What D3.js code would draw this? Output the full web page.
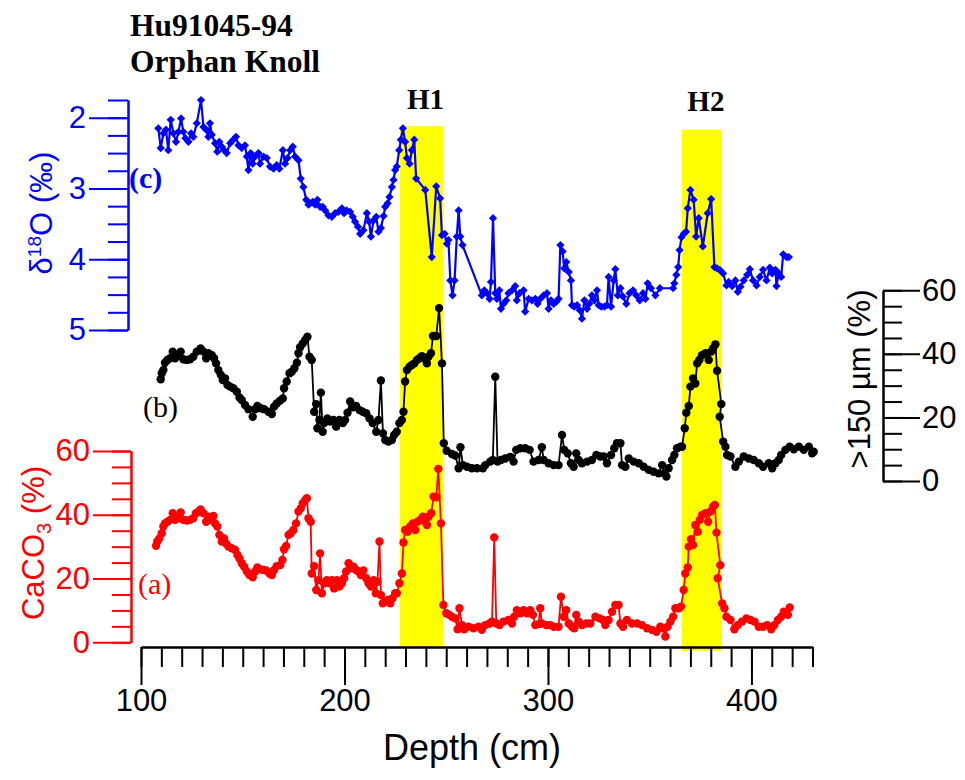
<!DOCTYPE html>
<html>
<head>
<meta charset="utf-8">
<script src="https://cdn.jsdelivr.net/npm/d3@7"></script>
<style>
body{margin:0;background:#fff;}
.canvas{width:965px;height:780px;}
.axis text{font-family:"Liberation Sans",Arial,sans-serif;font-size:31px;}
.serif{font-family:"Liberation Serif","Times New Roman",serif;}
.sans{font-family:"Liberation Sans",Arial,sans-serif;}
</style>
</head>
<body>
<div id="canvas" class="canvas"></div>
<script>
//data: depth (cm) and values
var depthO = [108.5,109.7,111.0,112.3,113.4,114.6,115.9,117.2,118.4,119.7,120.8,121.8,123.3,124.6,125.7,127.4,129.5,130.7,132.0,133.1,133.9,134.8,136.4,137.5,138.5,139.7,140.8,142.1,143.8,145.4,146.7,147.9,149.5,151.1,152.0,152.8,153.9,154.9,156.1,157.7,158.5,160.2,161.8,163.4,165.1,166.7,168.0,169.7,170.8,172.0,173.3,174.6,175.7,177.4,178.5,179.8,181.2,182.3,183.1,184.4,185.6,186.7,188.0,189.3,190.5,192.1,193.8,195.4,197.0,198.7,199.8,201.1,202.8,204.1,205.2,206.6,207.7,209.3,211.0,212.1,213.0,214.3,215.6,216.7,217.9,219.2,220.0,221.2,222.1,223.3,224.1,224.9,225.7,226.9,227.7,228.7,229.8,230.7,232.0,233.1,234.3,235.2,239.7,242.9,245.1,247.0,247.9,249.2,250.3,251.1,252.0,253.1,254.1,255.2,256.1,256.9,258.0,267.5,268.7,270.0,271.3,272.0,273.0,274.1,274.9,276.1,276.9,278.2,279.5,280.6,282.3,283.9,284.7,286.1,288.0,288.8,290.5,292.1,293.8,294.9,296.2,297.9,299.5,300.3,301.5,302.8,304.1,305.2,306.1,307.2,308.0,309.0,310.2,311.3,311.8,312.9,314.3,315.6,316.7,317.9,319.2,320.3,321.6,322.8,324.1,324.9,326.2,327.7,329.0,329.8,331.0,332.3,333.1,334.3,335.6,336.9,338.5,340.1,341.8,343.4,345.1,346.7,347.9,349.0,350.6,352.8,355.0,361.5,362.1,363.1,364.0,364.7,365.6,366.7,367.9,368.7,370.0,371.6,372.8,374.1,376.1,378.5,380.2,381.8,383.1,384.4,386.1,387.7,388.8,390.5,392.1,393.3,394.6,396.2,397.9,399.2,400.8,402.5,404.1,405.7,407.4,409.0,410.2,411.8,412.3,413.4,414.6,415.6,417.2,418.4];
var d18O = [2.15,2.43,2.22,2.17,2.46,2.03,2.22,2.34,2.20,2.01,2.20,2.29,2.34,2.22,2.27,2.08,1.75,2.13,2.17,2.27,2.08,2.24,2.36,2.48,2.34,2.41,2.46,2.50,2.36,2.31,2.27,2.39,2.43,2.39,2.55,2.74,2.50,2.65,2.55,2.50,2.65,2.55,2.57,2.69,2.72,2.67,2.72,2.46,2.65,2.57,2.46,2.41,2.55,2.60,2.86,2.98,3.16,3.23,3.21,3.19,3.23,3.16,3.26,3.26,3.31,3.38,3.40,3.35,3.33,3.28,3.35,3.31,3.33,3.40,3.47,3.54,3.64,3.59,3.35,3.47,3.68,3.45,3.40,3.61,3.56,3.39,3.26,3.21,3.12,2.98,2.88,2.74,2.69,2.46,2.31,2.15,2.34,2.57,2.65,2.46,2.31,2.86,3.02,3.97,2.97,3.14,3.66,3.64,3.78,3.73,4.30,4.51,4.30,3.68,3.31,3.68,3.80,4.51,4.44,4.48,4.56,4.32,3.42,4.48,4.56,4.44,4.70,4.63,4.58,4.48,4.44,4.38,4.58,4.48,4.44,4.74,4.56,4.58,4.56,4.63,4.56,4.51,4.48,4.70,4.58,4.63,4.60,4.56,3.80,3.89,4.13,4.04,4.18,4.30,4.65,4.67,4.65,4.72,4.84,4.58,4.70,4.63,4.51,4.58,4.44,4.65,4.67,4.67,4.65,4.25,4.67,4.30,4.14,4.51,4.41,4.53,4.63,4.48,4.44,4.51,4.58,4.48,4.56,4.34,4.41,4.51,4.41,4.41,4.34,4.22,4.11,3.87,3.69,3.64,3.61,3.28,3.02,3.16,3.68,3.42,3.82,3.35,3.15,4.11,4.13,4.15,4.20,4.37,4.32,4.38,4.30,4.46,4.39,4.30,4.22,4.14,4.30,4.37,4.25,4.15,4.30,4.12,4.20,4.15,4.38,4.20,4.25,3.93,3.97,3.97];

var depthCoarse = [109.7,110.2,111.0,111.8,113.0,114.3,115.6,116.7,118.4,119.5,120.8,122.5,124.1,125.7,127.4,129.3,130.7,132.0,133.1,134.8,135.9,136.9,138.0,139.2,140.2,141.3,142.5,143.8,145.4,147.1,148.4,149.5,151.1,152.8,154.9,156.1,157.2,158.9,160.5,162.6,164.3,165.4,166.7,168.4,169.7,170.3,171.6,173.0,174.1,175.4,176.6,177.4,178.2,179.5,180.7,181.8,182.8,183.9,185.1,186.1,186.7,187.7,188.4,189.3,190.0,191.6,193.0,194.6,195.9,197.5,199.2,200.3,201.5,202.8,204.1,205.7,207.4,209.0,210.7,212.3,213.9,215.6,216.7,217.9,218.9,220.0,221.6,223.3,224.4,225.7,227.0,228.2,229.0,229.8,230.7,232.0,233.1,234.3,235.6,236.9,238.0,239.2,240.5,241.3,242.5,243.5,245.1,246.5,247.9,248.8,250.2,252.8,254.4,256.1,257.0,258.2,260.2,262.6,265.1,268.0,269.2,271.6,272.9,274.1,275.2,276.9,279.0,281.5,283.1,284.4,286.4,288.8,291.0,292.9,295.4,297.0,297.9,300.3,302.8,305.2,306.9,308.0,309.7,311.3,312.6,313.9,315.1,316.7,319.2,321.6,323.8,325.7,327.4,329.0,331.0,332.6,333.9,335.6,336.4,338.0,339.7,342.1,344.6,347.0,349.5,351.9,354.4,356.1,357.2,358.2,359.3,361.0,362.1,363.4,365.1,365.9,367.2,368.0,369.2,370.0,371.3,372.4,373.3,374.4,375.7,377.4,379.0,380.2,381.1,382.3,383.1,385.2,384.4,386.1,387.2,388.0,389.7,392.1,393.8,396.2,398.7,401.1,403.6,405.7,408.5,410.2,411.8,413.4,414.6,416.7,418.8,420.8,423.3,425.7,428.2,429.8,430.6];
var coarse = [32.0,33.9,34.9,37.2,38.1,38.6,40.7,38.6,39.3,40.7,38.3,38.1,38.3,39.1,40.7,41.7,40.7,38.6,40.2,39.6,38.6,37.0,34.9,33.4,31.8,32.3,30.2,29.7,29.2,28.1,26.3,25.5,23.9,22.6,20.2,22.6,23.6,22.9,22.6,21.8,21.1,23.4,24.4,25.3,26.0,29.2,31.3,33.9,34.4,35.5,37.2,40.2,42.1,43.3,44.4,45.4,39.1,38.1,21.8,24.2,16.6,19.2,27.8,15.5,18.2,19.7,18.7,19.2,17.1,19.2,18.2,19.2,21.5,25.0,23.2,23.6,22.3,21.8,21.3,19.7,18.2,15.5,19.2,31.6,15.0,12.9,12.4,12.9,14.5,15.5,18.2,19.2,21.8,31.3,34.9,36.0,36.5,37.0,38.1,38.6,39.3,38.6,37.0,39.1,40.2,45.6,45.6,54.4,37.0,11.9,9.5,8.5,8.0,4.0,10.6,5.0,4.5,4.0,4.0,4.0,5.0,6.1,6.6,32.8,6.1,6.6,7.1,7.6,6.1,9.8,10.3,10.3,9.8,6.1,6.6,10.6,6.6,5.6,5.0,5.0,14.5,9.8,8.7,5.6,4.5,8.7,6.6,5.6,6.1,6.6,8.2,7.7,7.7,5.6,8.2,10.3,11.9,11.9,5.0,4.5,7.1,6.1,5.6,4.5,3.5,2.9,2.4,5.0,2.4,1.4,4.0,6.6,8.2,10.3,10.8,10.8,16.6,21.5,23.6,29.7,32.3,30.7,37.0,38.1,39.6,40.2,38.1,40.7,41.7,43.0,34.7,24.2,20.2,12.4,10.8,8.2,7.7,4.5,6.1,7.7,7.1,6.6,5.6,4.5,5.6,4.0,5.6,6.6,8.2,9.8,10.8,10.0,10.8,9.8,10.8,8.7,9.2];

var depthCa = [107.4,108.0,109.0,110.2,111.0,111.8,113.0,114.3,115.6,116.7,118.4,119.5,120.8,122.5,124.1,125.7,127.0,128.2,129.3,130.7,132.0,133.1,134.3,135.6,136.4,137.5,138.5,139.7,140.8,141.8,143.0,144.6,146.2,147.4,148.4,149.5,150.7,152.0,153.3,154.9,156.1,157.2,158.5,160.2,161.5,163.1,164.3,165.4,166.7,168.4,169.5,170.3,171.3,172.5,173.6,174.9,176.2,177.4,178.5,179.5,180.7,181.5,182.3,183.4,183.9,185.1,186.1,187.2,188.0,188.9,190.0,191.3,192.6,193.8,194.9,196.2,197.5,198.7,199.8,200.8,202.0,203.1,204.4,205.7,206.9,208.0,209.3,210.7,211.8,213.0,214.3,215.4,216.2,217.2,217.9,218.8,220.0,221.2,222.5,223.6,224.9,225.7,227.0,228.2,229.0,229.8,231.0,232.3,233.6,234.8,235.9,237.2,238.5,239.7,240.5,241.3,242.6,243.8,245.1,246.1,247.4,248.6,250.0,251.5,252.8,254.4,255.6,256.5,257.7,258.8,261.0,263.4,265.9,267.5,269.2,271.3,272.5,273.6,274.6,276.2,278.2,280.6,282.3,283.4,284.7,286.4,288.0,289.7,291.3,292.6,293.8,295.4,296.2,297.0,299.2,301.1,302.8,305.2,306.4,307.7,309.0,310.2,311.8,312.9,313.9,315.1,316.7,318.8,320.8,323.3,325.4,327.0,328.2,329.8,331.5,333.1,334.7,335.6,336.9,338.8,341.3,343.8,346.2,348.7,351.1,353.3,355.2,356.6,357.7,358.8,360.2,361.5,362.6,364.3,365.4,366.7,367.5,368.7,369.2,370.3,371.3,372.4,373.6,374.6,375.7,377.4,378.7,379.8,381.1,382.0,382.8,384.7,383.4,385.6,386.7,387.7,389.7,391.6,393.3,395.4,397.5,399.5,401.5,403.6,405.7,407.7,409.7,411.3,413.0,414.6,415.9,417.9,418.8];
var caco3 = [30.3,31.6,32.6,34.2,36.3,37.3,37.8,38.4,40.5,38.4,38.9,40.7,38.4,38.2,38.4,38.9,40.5,41.0,41.7,40.5,37.8,39.4,38.4,39.6,37.3,36.3,33.7,31.6,32.6,31.0,30.0,29.5,29.0,27.4,26.3,24.8,23.7,22.2,21.1,20.4,22.2,23.5,22.9,22.7,22.5,21.6,21.1,22.7,23.9,24.2,25.8,29.2,30.2,33.7,34.2,35.2,37.3,41.0,42.0,43.6,44.6,45.2,38.9,37.8,21.6,23.9,16.4,19.5,27.9,15.4,18.5,19.5,18.5,19.5,16.9,19.5,17.5,18.5,20.1,22.2,24.8,23.2,23.7,22.7,22.2,21.1,22.5,20.1,18.5,17.5,19.5,15.4,19.0,31.6,14.8,12.2,12.8,13.3,12.2,13.8,15.4,15.4,18.5,21.6,31.3,35.2,34.7,36.3,37.3,35.2,37.8,38.4,39.4,37.8,36.8,39.4,40.5,45.7,45.5,54.4,37.3,11.7,9.1,8.6,8.0,7.5,4.1,10.7,5.4,4.1,4.9,4.4,4.9,3.9,5.4,5.9,6.5,32.9,5.9,5.4,6.5,7.0,5.9,8.0,10.1,9.1,10.1,9.1,10.1,8.6,5.4,5.7,10.7,5.9,5.4,5.4,4.9,4.9,14.3,8.0,10.1,5.9,4.9,4.4,8.6,6.5,5.4,5.9,5.9,8.0,7.5,7.0,5.4,7.0,9.6,11.7,11.7,5.9,4.9,7.0,5.9,5.9,5.4,4.4,3.9,3.3,4.9,4.4,1.8,4.9,6.5,8.0,10.7,10.7,11.2,16.4,21.6,23.5,30.0,32.3,30.5,36.8,34.7,38.4,39.9,40.5,37.8,41.0,42.5,43.1,34.4,24.2,20.1,12.2,10.7,8.0,7.0,4.1,5.4,6.5,7.5,7.0,6.5,4.9,4.9,5.4,4.1,5.4,7.0,8.0,9.6,8.6,10.9];

//Heinrich events (depth ranges)
var bandNames = ['H1','H2'];
var bandFrom = [227.3,365.8];
var bandTo = [248.4,385.5];

//tick labels
var depthTicks = [100,200,300,400];
var pctTicks = [0,20,40,60];
var o18Ticks = [2,3,4,5];

var outerWidth = 965, outerHeight = 780;

var plot = d3.select('.canvas')
    .append('svg')
    .attr('width',outerWidth)
    .attr('height',outerHeight)
    .append('g');

//scales
var scaleX = d3.scaleLinear().domain([100,430]).range([141,812.5]);
var scaleO = d3.scaleLinear().domain([1.75,5]).range([100,330]);
var scaleB = d3.scaleLinear().domain([0,60]).range([481,290.3]);
var scaleR = d3.scaleLinear().domain([0,60]).range([642.3,451]);

//yellow bands first, behind the curves
var bands = bandNames.map(function(n,i){ return {name:n, from:bandFrom[i], to:bandTo[i]}; });
plot.selectAll('rect.band')
    .data(bands)
    .enter().append('rect')
    .attr('class','band')
    .attr('x',function(d){ return scaleX(d.from); })
    .attr('width',function(d){ return scaleX(d.to) - scaleX(d.from); })
    .attr('y',function(d,i){ return i==0 ? scaleO(2.12) : scaleO(2.17); })
    .attr('height',function(d,i){ return (i==0 ? scaleR(-1.2) : scaleR(-2.7)) - (i==0 ? scaleO(2.12) : scaleO(2.17)); })
    .attr('fill','#ffff00');

plot.selectAll('text.band')
    .data(bands)
    .enter().append('text')
    .attr('class','serif')
    .attr('x',function(d){ return (scaleX(d.from)+scaleX(d.to))/2 + 4; })
    .attr('y',function(d,i){ return i==0 ? 109 : 111; })
    .attr('text-anchor','middle')
    .attr('font-weight','bold')
    .attr('font-size',29)
    .text(function(d){ return d.name; });

//axes
function drawAxis(axis, color, tr){
    var g = plot.append('g').attr('class','axis')
        .attr('transform',tr)
        .attr('color',color)
        .call(axis);
    g.selectAll('line,path').attr('stroke-width',2);
    return g;
}

//bottom depth axis
drawAxis(d3.axisBottom(scaleX).tickValues(d3.range(100,431,10)).tickFormat('').tickSize(20).tickSizeOuter(0),'black','translate(0,647)');
drawAxis(d3.axisBottom(scaleX).tickValues(depthTicks).tickSize(38).tickPadding(4).tickSizeOuter(0),'black','translate(0,647)');

//d18O axis
drawAxis(d3.axisLeft(scaleO).tickValues(d3.range(1.75,5.01,0.25)).tickFormat('').tickSize(20).tickSizeOuter(0),'blue','translate(128,0)');
drawAxis(d3.axisLeft(scaleO).tickValues(o18Ticks).tickFormat(d3.format('d')).tickSize(39).tickPadding(3).tickSizeOuter(0),'blue','translate(128,0)');

//>150 um axis
drawAxis(d3.axisRight(scaleB).tickValues(d3.range(0,61,5)).tickFormat('').tickSize(19).tickSizeOuter(0),'black','translate(883,0)');
drawAxis(d3.axisRight(scaleB).tickValues(pctTicks).tickSize(37).tickPadding(2).tickSizeOuter(0),'black','translate(883,0)');

//CaCO3 axis
drawAxis(d3.axisLeft(scaleR).tickValues(d3.range(0,61,5)).tickFormat('').tickSize(19).tickSizeOuter(0),'red','translate(131,0)');
drawAxis(d3.axisLeft(scaleR).tickValues(pctTicks).tickSize(38).tickPadding(3).tickSizeOuter(0),'red','translate(131,0)');

//series
var blue = depthO.map(function(d,i){ return {x:d, y:d18O[i]}; });
var black = depthCoarse.map(function(d,i){ return {x:d, y:coarse[i]}; });
var red = depthCa.map(function(d,i){ return {x:d, y:caco3[i]}; });

function drawLine(data, sy, color, w){
    var line = d3.line()
        .x(function(d){ return scaleX(d.x); })
        .y(function(d){ return sy(d.y); });
    plot.append('path')
        .datum(data)
        .attr('d',line)
        .attr('fill','none')
        .attr('stroke',color)
        .attr('stroke-width',w);
}

drawLine(blue, scaleO, 'blue', 2.2);
plot.append('g').selectAll('path')
    .data(blue)
    .enter().append('path')
    .attr('d',d3.symbol().type(d3.symbolSquare).size(34))
    .attr('transform',function(d){ return 'translate(' + scaleX(d.x) + ',' + scaleO(d.y) + ') rotate(45)'; })
    .attr('fill','blue');

drawLine(black, scaleB, 'black', 1.8);
plot.append('g').selectAll('circle')
    .data(black)
    .enter().append('circle')
    .attr('cx',function(d){ return scaleX(d.x); })
    .attr('cy',function(d){ return scaleB(d.y); })
    .attr('r',4.2)
    .attr('fill','black');

drawLine(red, scaleR, 'red', 1.8);
plot.append('g').selectAll('circle')
    .data(red)
    .enter().append('circle')
    .attr('cx',function(d){ return scaleX(d.x); })
    .attr('cy',function(d){ return scaleR(d.y); })
    .attr('r',4.2)
    .attr('fill','red');

//titles and labels
plot.append('text').attr('class','serif')
    .attr('x',130).attr('y',36)
    .attr('font-weight','bold').attr('font-size',31.5)
    .text('Hu91045-94');
plot.append('text').attr('class','serif')
    .attr('x',130).attr('y',72)
    .attr('font-weight','bold').attr('font-size',31.5)
    .text('Orphan Knoll');

plot.append('text').attr('class','serif')
    .attr('x',129).attr('y',188)
    .attr('font-weight','bold').attr('font-size',30)
    .attr('fill','blue')
    .text('(c)');
plot.append('text').attr('class','serif')
    .attr('x',143).attr('y',417)
    .attr('font-size',30)
    .text('(b)');
plot.append('text').attr('class','serif')
    .attr('x',138).attr('y',594)
    .attr('font-size',30)
    .attr('fill','red')
    .text('(a)');

//axis titles
var tO = plot.append('text').attr('class','sans')
    .attr('transform','translate(52,213) rotate(-90)')
    .attr('text-anchor','middle')
    .attr('font-size',31)
    .attr('fill','blue');
tO.append('tspan').text('\u03b4');
tO.append('tspan').attr('font-size',19).attr('dy',-11).text('18');
tO.append('tspan').attr('dy',11).text('O (\u2030)');

var tR = plot.append('text').attr('class','sans')
    .attr('transform','translate(44,543) rotate(-90)')
    .attr('text-anchor','middle')
    .attr('font-size',31)
    .attr('fill','red');
tR.append('tspan').text('CaCO');
tR.append('tspan').attr('font-size',20).attr('dy',7).text('3');
tR.append('tspan').attr('dy',-7).text(' (%)');

plot.append('text').attr('class','sans')
    .attr('transform','translate(870,379) rotate(-90)')
    .attr('text-anchor','middle')
    .attr('font-size',31)
    .text('>150 \u00b5m (%)');

plot.append('text').attr('class','sans')
    .attr('x',472).attr('y',760)
    .attr('text-anchor','middle')
    .attr('font-size',36)
    .text('Depth (cm)');
</script>
</body>
</html>
